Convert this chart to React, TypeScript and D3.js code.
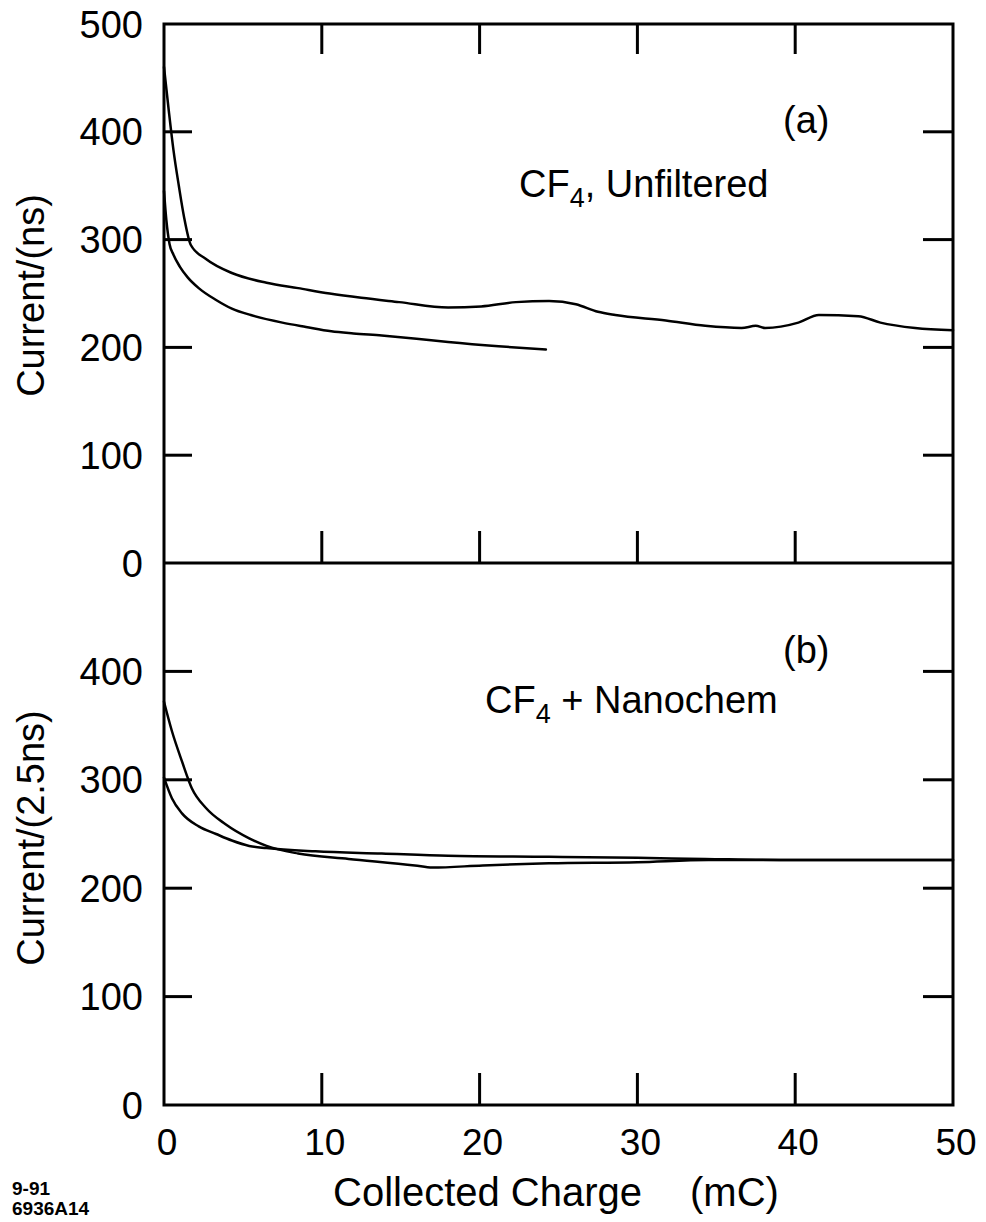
import React from "react";
import * as d3 from "d3";

// ---- Data ----
const xTicks = [0, 10, 20, 30, 40, 50];
const yTicksTop = [0, 100, 200, 300, 400, 500];
const yTicksBottom = [0, 100, 200, 300, 400];

// Panel (a): CF4, Unfiltered
const aLongQ = [0, 0.3, 0.6, 0.95, 1.27, 1.7, 2.66, 4.3, 6.5, 8.5, 10.5, 12.5, 14.9, 18.0, 20.1, 22.3, 24.4, 26.1, 27.5, 28.6, 31.8, 34.3, 36.6, 37.5, 38.1, 40.2, 41.5, 44.0, 45.4, 47.6, 50];
const aLongV = [460, 420, 383, 349, 321, 295, 282, 269, 260, 255, 250, 246, 242, 237, 238, 242, 243, 240, 233, 230, 225, 220, 218, 220, 218, 223, 230, 229, 223, 218, 216];
const aShortQ = [0, 0.15, 0.35, 0.6, 1.0, 1.5, 2.2, 3.3, 4.3, 5.5, 7.5, 9, 10.6, 12, 13.8, 16, 18, 21.2, 24.2];
const aShortV = [345, 318, 296, 286, 275, 265, 255, 244, 236, 230, 223, 219, 215, 213, 211, 208, 205, 201, 198];

// Panel (b): CF4 + Nanochem
const bHighQ = [0, 0.5, 1.14, 1.77, 2.66, 3.9, 5.4, 6.5, 8.5, 11.7, 15.9, 17.0, 20.2, 24.4, 30, 34.5, 40, 50];
const bHighV = [372, 345, 317, 292, 274, 259, 246, 239, 232, 227, 221, 219, 221, 223, 224, 226, 226, 226];
const bLowQ = [0, 0.5, 1.14, 2.2, 3.3, 4.3, 5.4, 6.5, 9.6, 13.8, 18, 24.4, 30, 34.3, 40, 50];
const bLowV = [302, 283, 269, 257, 250, 244, 239, 237, 234, 232, 230, 229, 228, 227, 226, 226];

const W = 986;
const H = 1222;
const FONT = "'Liberation Sans', Arial, Helvetica, sans-serif";

const x = d3.scaleLinear().domain([0, 50]).range([164, 953]);
const yTop = d3.scaleLinear().domain([0, 500]).range([563, 24]);
const yBot = d3.scaleLinear().domain([0, 500]).range([1105, 563]);

function pts(q: number[], v: number[]) {
  return q.map((d, i) => [d, v[i]] as [number, number]);
}

export default function App() {
  const lineTop = d3
    .line<[number, number]>()
    .x((d) => x(d[0]))
    .y((d) => yTop(d[1]))
    .curve(d3.curveMonotoneX);
  const lineBot = d3
    .line<[number, number]>()
    .x((d) => x(d[0]))
    .y((d) => yBot(d[1]))
    .curve(d3.curveMonotoneX);

  const inner = xTicks.filter((t) => t > 0 && t < 50);
  const frameW = 3;
  const tickLen = 30;

  return (
    <svg
      width={W}
      height={H}
      viewBox={`0 0 ${W} ${H}`}
      style={{ position: "absolute", left: 0, top: 0, background: "#fff" }}
      fontFamily={FONT}
    >
      <rect x={0} y={0} width={W} height={H} fill="#fff" />
      {/* Frames */}
      <g stroke="#000" strokeWidth={frameW} fill="none">
        <rect x={x(0)} y={yTop(500)} width={x(50) - x(0)} height={yBot(0) - yTop(500)} />
        <line x1={x(0)} x2={x(50)} y1={yTop(0)} y2={yTop(0)} />
      </g>
      {/* Ticks top panel */}
      <g stroke="#000" strokeWidth={3}>
        {inner.map((t) => (
          <line key={"tt" + t} x1={x(t)} x2={x(t)} y1={yTop(500)} y2={yTop(500) + tickLen} />
        ))}
        {inner.map((t) => (
          <line key={"tb" + t} x1={x(t)} x2={x(t)} y1={yTop(0)} y2={yTop(0) - tickLen - 2} />
        ))}
        {yTicksTop
          .filter((t) => t > 0 && t < 500)
          .map((t) => (
            <g key={"ty" + t}>
              <line x1={x(0)} x2={x(0) + 28} y1={yTop(t)} y2={yTop(t)} />
              <line x1={x(50)} x2={x(50) - 30} y1={yTop(t)} y2={yTop(t)} />
            </g>
          ))}
        {/* Ticks bottom panel */}
        {inner.map((t) => (
          <line key={"bb" + t} x1={x(t)} x2={x(t)} y1={yBot(0)} y2={yBot(0) - tickLen - 2} />
        ))}
        {yTicksBottom
          .filter((t) => t > 0)
          .map((t) => (
            <g key={"by" + t}>
              <line x1={x(0)} x2={x(0) + 28} y1={yBot(t)} y2={yBot(t)} />
              <line x1={x(50)} x2={x(50) - 30} y1={yBot(t)} y2={yBot(t)} />
            </g>
          ))}
      </g>
      {/* Curves */}
      <g stroke="#000" strokeWidth={2.5} fill="none" strokeLinejoin="round" strokeLinecap="round">
        <path d={lineTop(pts(aLongQ, aLongV)) || ""} />
        <path d={lineTop(pts(aShortQ, aShortV)) || ""} />
        <path d={lineBot(pts(bHighQ, bHighV)) || ""} />
        <path d={lineBot(pts(bLowQ, bLowV)) || ""} />
      </g>
      {/* Y tick labels */}
      <g fontSize={38} textAnchor="end" fill="#000">
        {yTicksTop.map((t) => (
          <text key={"lt" + t} x={143} y={yTop(t)} dy="0.36em">
            {t}
          </text>
        ))}
        {yTicksBottom.map((t) => (
          <text key={"lb" + t} x={143} y={yBot(t)} dy="0.36em">
            {t}
          </text>
        ))}
      </g>
      {/* X tick labels */}
      <g fontSize={37} textAnchor="middle" fill="#000">
        {xTicks.map((t) => (
          <text key={"xl" + t} x={x(t) + 3} y={1155}>
            {t}
          </text>
        ))}
      </g>
      {/* Axis titles */}
      <text x={333} y={1206} fontSize={40} fill="#000">
        Collected Charge
      </text>
      <text x={690} y={1206} fontSize={40} fill="#000">
        (mC)
      </text>
      <text
        transform={`translate(44, ${(yTop(0) + yTop(500)) / 2 + 2}) rotate(-90)`}
        fontSize={38}
        textAnchor="middle"
        fill="#000"
      >
        Current/(ns)
      </text>
      <text
        transform={`translate(44, ${(yBot(0) + yBot(500)) / 2 + 4}) rotate(-90)`}
        fontSize={38}
        textAnchor="middle"
        fill="#000"
      >
        Current/(2.5ns)
      </text>
      {/* Annotations */}
      <text x={783} y={133} fontSize={38} fill="#000">(a)</text>
      <text x={519} y={197} fontSize={38} fill="#000">
        CF<tspan fontSize={27} dy={10}>4</tspan>
        <tspan dy={-10}>, Unfiltered</tspan>
      </text>
      <text x={783} y={663} fontSize={38} fill="#000">(b)</text>
      <text x={485} y={713} fontSize={38} fill="#000">
        CF<tspan fontSize={27} dy={10}>4</tspan>
        <tspan dy={-10}> + Nanochem</tspan>
      </text>
      {/* Footnote */}
      <text x={12} y={1195} fontSize={19} fontWeight="bold" fill="#000">9-91</text>
      <text x={12} y={1215} fontSize={19} fontWeight="bold" fill="#000">6936A14</text>
    </svg>
  );
}
